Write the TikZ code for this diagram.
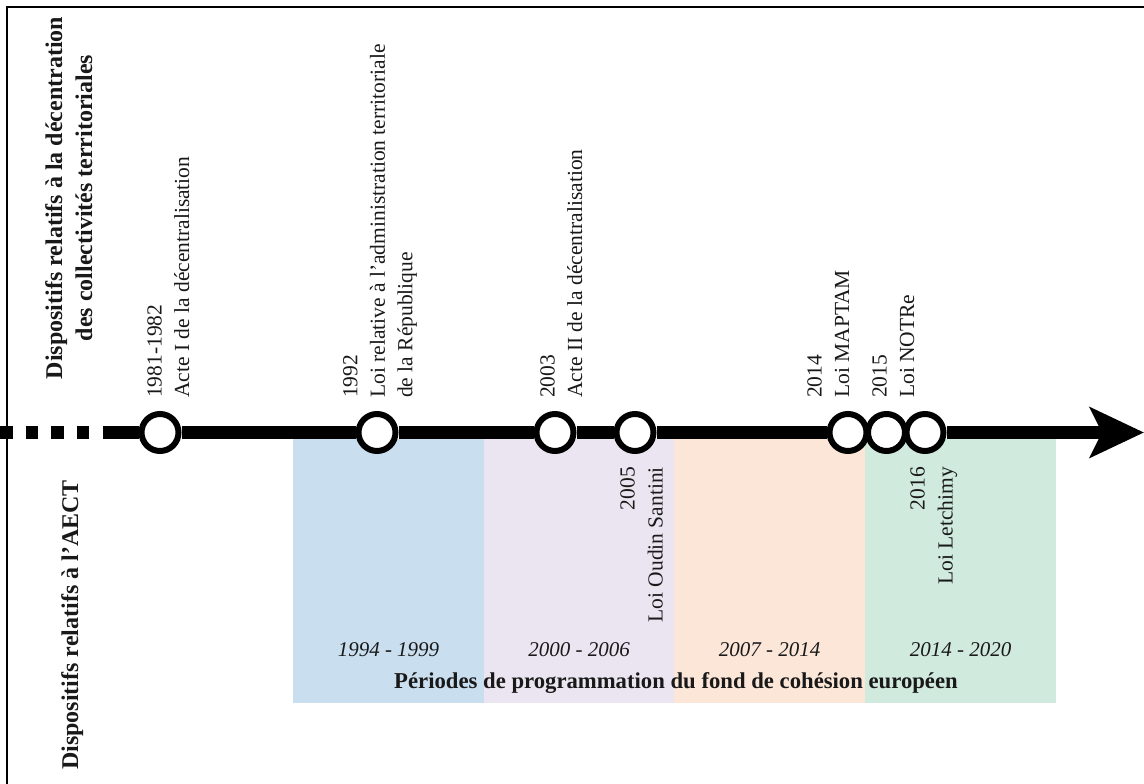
\documentclass[tikz,border=0pt]{standalone}
\usepackage{fontspec}
\setmainfont{Liberation Serif}
\usetikzlibrary{arrows.meta}
\definecolor{bandblue}{RGB}{201,222,239}
\definecolor{bandpurple}{RGB}{235,229,241}
\definecolor{bandorange}{RGB}{251,230,216}
\definecolor{bandgreen}{RGB}{208,234,222}
\definecolor{txt}{RGB}{25,25,25}
\begin{document}
\begin{tikzpicture}[x=1pt,y=-1pt,
  lbl/.style={rotate=90, inner sep=0pt, align=left, anchor=north west,
    font=\fontsize{21.5}{27.5}\selectfont, text=txt},
  lblb/.style={rotate=90, inner sep=0pt, align=right, anchor=north east,
    font=\fontsize{21.5}{28}\selectfont, text=txt},
  evt/.style={circle, draw=black, line width=6pt, fill=white,
    minimum size=37pt, inner sep=0pt},
  per/.style={font=\fontsize{21}{25}\selectfont\itshape, anchor=base,
    inner sep=0pt, text=txt},
  ttl/.style={rotate=90, font=\bfseries\fontsize{24}{30}\selectfont,
    align=center, inner sep=0pt, text=txt},
  axis/.style={line width=12.5pt, black}
]
\useasboundingbox (0,0) rectangle (1144,784);

% frame
\draw[line width=2.7pt] (7,790) -- (7,7) -- (1150,7);

% bands
\fill[bandblue]   (293,439) rectangle (484,703);
\fill[bandpurple] (484,439) rectangle (674,703);
\fill[bandorange] (674,439) rectangle (865,703);
\fill[bandgreen]  (865,439) rectangle (1056,703);

% period labels
\node[per] (p1) at (388.5,656) {1994 - 1999};
\node[per] (p2) at (579,656) {2000 - 2006};
\node[per] (p3) at (769.5,656) {2007 - 2014};
\node[per] (p4) at (960.5,656) {2014 - 2020};
\node[anchor=base, inner sep=0pt, text=txt, font=\bfseries\fontsize{22.7}{27}\selectfont]
  (per) at (676,688) {Périodes de programmation du fond de cohésion européen};

% timeline
\coordinate (d0) at (0,432.5);
\coordinate (d1) at (90,432.5);
\coordinate (s0) at (103,432.5);
\coordinate (tip) at (1144,432.5);
\draw[axis, dash pattern=on 12.5pt off 13pt] (d0) -- (d1);

\node[evt] (e1) at (160,432.5) {};
\node[evt] (e2) at (377,432.5) {};
\node[evt] (e3) at (555,432.5) {};
\node[evt] (e4) at (635,432.5) {};
\node[evt] (e5) at (848,432.5) {};
\node[evt] (e6) at (886.5,432.5) {};
\node[evt] (e7) at (925,432.5) {};

\draw[axis] (s0) -- (e1) -- (e2) -- (e3) -- (e4) -- (e5);
\draw[axis, -{Stealth[length=54pt,width=50pt,inset=12pt]}] (e7) -- (tip);

% upper labels
\node[lbl] (l1) at (147,398) {1981-1982\\Acte I de la décentralisation};
\node[lbl] (l2) at (343,398) {1992\\Loi relative à l’administration territoriale\\de la République};
\node[lbl] (l3) at (540,398) {2003\\Acte II de la décentralisation};
\node[lbl] (l5) at (807,398) {2014\\Loi MAPTAM};
\node[lbl] (l6) at (872,398) {2015\\Loi NOTRe};

% lower labels
\node[lblb] (l4) at (620,467) {2005\\Loi Oudin Santini};
\node[lblb] (l7) at (910,467) {2016\\Loi Letchimy};

% axis titles
\node[ttl, anchor=north] (t1) at (45,198) {Dispositifs relatifs à la décentration\\des collectivités territoriales};
\node[ttl, anchor=north west] (t2) at (61,770) {Dispositifs relatifs à l’AECT};
\end{tikzpicture}
\end{document}
